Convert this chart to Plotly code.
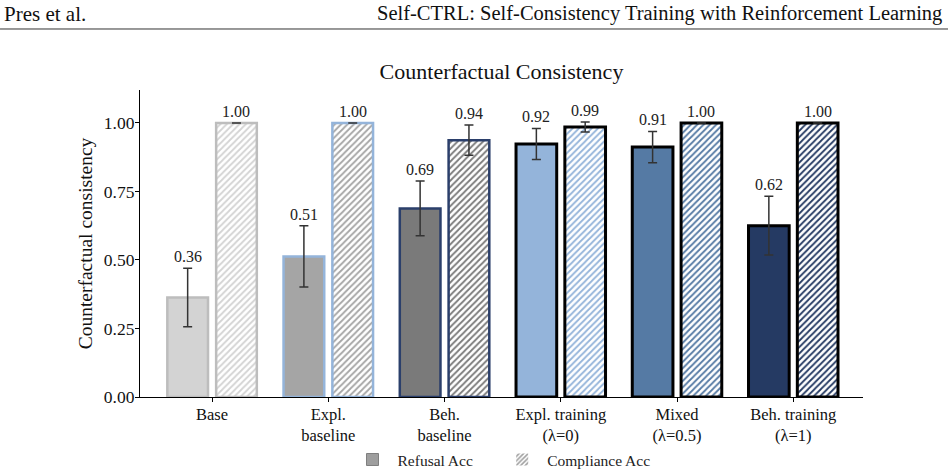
import plotly.graph_objects as go

categories = ["Base", "Expl.<br>baseline", "Beh.<br>baseline", "Expl. training<br>(λ=0)", "Mixed<br>(λ=0.5)", "Beh. training<br>(λ=1)"]
refusal = [0.363, 0.513, 0.688, 0.923, 0.912, 0.625]
refusal_err = [0.107, 0.112, 0.100, 0.057, 0.057, 0.107]
refusal_lbl = ["0.36", "0.51", "0.69", "0.92", "0.91", "0.62"]
compliance = [1.0, 1.0, 0.937, 0.985, 1.0, 1.0]
compliance_err = [0.0, 0.0, 0.055, 0.018, 0.0, 0.0]
compliance_lbl = ["1.00", "1.00", "0.94", "0.99", "1.00", "1.00"]
series_names = ["Refusal Acc", "Compliance Acc"]
fill_colors = ["#d3d3d3", "#a5a5a5", "#7a7a7a", "#94b4da", "#557aa4", "#253a63"]
edge_colors = ["#bdbdbd", "#94b4da", "#2b3f6b", "#000000", "#000000", "#000000"]
edge_widths = [2.5, 2.5, 2.5, 3, 3, 3]

x = list(range(len(categories)))
W = 0.35
GAP = 0.035
FONT = "Liberation Serif"

fig = go.Figure()
fig.add_trace(go.Bar(
    x=x, y=refusal, width=W, offset=-(W + GAP), showlegend=False,
    marker=dict(color=fill_colors, line=dict(color=edge_colors, width=edge_widths)),
    error_y=dict(type="data", array=refusal_err, color="#333333", thickness=1.5, width=4.5),
))
fig.add_trace(go.Bar(
    x=x, y=compliance, width=W, offset=GAP, showlegend=False,
    marker=dict(color=fill_colors, line=dict(color=edge_colors, width=edge_widths),
                pattern=dict(shape="/", fillmode="replace", bgcolor=fill_colors,
                             fgcolor="white", size=4.5, solidity=0.4)),
    error_y=dict(type="data", array=compliance_err, color="#333333", thickness=1.5, width=4.5),
))
# legend proxies (non-breaking spaces widen the first entry like the reference spacing)
fig.add_trace(go.Bar(x=[None], y=[None], name=series_names[0] + "\u00a0" * 5,
                     marker=dict(color="#9e9e9e", line=dict(color="#7f7f7f", width=1))))
fig.add_trace(go.Bar(x=[None], y=[None], name=series_names[1],
                     marker=dict(color="white", line=dict(color="white", width=0),
                                 pattern=dict(shape="/", fillmode="replace", bgcolor="white",
                                              fgcolor="#a0a0a0", size=4, solidity=0.5))))

half = W / 2 + GAP
for i in x:
    fig.add_annotation(x=i - half, y=refusal[i] + refusal_err[i], text=refusal_lbl[i],
                       showarrow=False, yanchor="bottom", yshift=1,
                       font=dict(family=FONT, size=16, color="#222"))
    fig.add_annotation(x=i + half, y=compliance[i] + compliance_err[i], text=compliance_lbl[i],
                       showarrow=False, yanchor="bottom", yshift=1,
                       font=dict(family=FONT, size=16, color="#222"))

# page header
fig.add_annotation(xref="paper", yref="paper", x=-0.1908, y=1.2476, xanchor="left", yanchor="middle",
                   text="Pres et al.", showarrow=False, font=dict(family=FONT, size=21, color="#111"))
fig.add_annotation(xref="paper", yref="paper", x=1.1125, y=1.2476, xanchor="right", yanchor="middle",
                   text="Self-CTRL: Self-Consistency Training with Reinforcement Learning",
                   showarrow=False, font=dict(family=FONT, size=20.5, color="#111"))
fig.add_shape(type="line", xref="paper", yref="paper", x0=-0.1936, x1=1.1176, y0=1.1987, y1=1.1987,
              line=dict(color="#333333", width=1))

fig.update_layout(
    width=948, height=475,
    margin=dict(l=140, r=85, t=90, b=78, autoexpand=False),
    plot_bgcolor="white", paper_bgcolor="white",
    font=dict(family=FONT, size=15.5, color="#111"),
    title=dict(text="Counterfactual Consistency", x=0.5, xref="paper", xanchor="center",
               y=1 - 71 / 475, yref="container", yanchor="middle",
               font=dict(family=FONT, size=22, color="#111")),
    legend=dict(orientation="h", x=0.5, xanchor="center", y=-0.205, yanchor="middle",
                font=dict(family=FONT, size=15.5, color="#222"), itemwidth=40,
                bgcolor="rgba(0,0,0,0)"),
    barmode="overlay",
)
fig.update_xaxes(range=[-0.62, 5.6], tickvals=x, ticktext=categories, showline=True,
                 linecolor="black", linewidth=1.2, ticks="outside", ticklen=4, tickcolor="black",
                 ticklabelstandoff=-2,
                 showgrid=False, zeroline=False, tickfont=dict(family=FONT, size=16.5, color="#111"))
fig.update_yaxes(range=[0, 1.12], tickvals=[0, 0.25, 0.5, 0.75, 1.0],
                 ticktext=["0.00", "0.25", "0.50", "0.75", "1.00"], showline=True,
                 linecolor="black", linewidth=1.2, ticks="outside", ticklen=4, tickcolor="black",
                 ticklabelstandoff=-3,
                 showgrid=False, zeroline=False, tickfont=dict(family=FONT, size=17.5, color="#111"),
                 title=dict(text="Counterfactual consistency", standoff=5,
                            font=dict(family=FONT, size=19.5, color="#111")))

fig.write_html("out.html")
